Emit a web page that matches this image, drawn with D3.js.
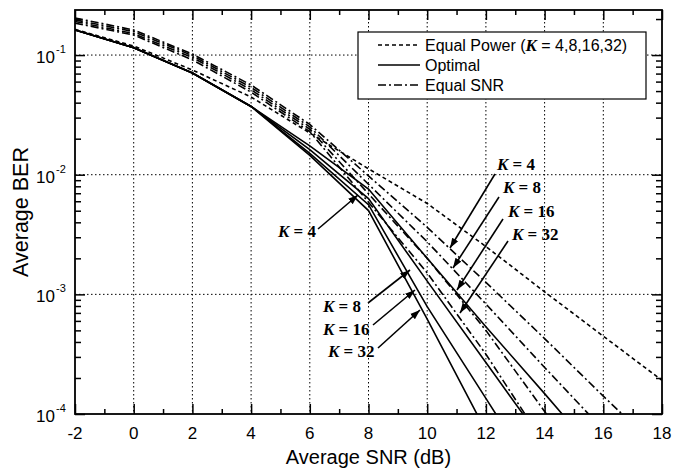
<html>
<head>
<meta charset="utf-8" />
<script src="https://d3js.org/d3.v7.min.js"></script>
<style>
  body { margin: 0; background: #fff; }
  text { font-family: "Liberation Sans", Arial, sans-serif; fill: #000; }
  .kl { font-family: "Liberation Serif", "Times New Roman", serif; font-weight: bold; font-size: 17px; }
</style>
</head>
<body>
<svg id="chart" width="673" height="469"></svg>
<script>
// SNR points (dB)
const snr = [-2, 0, 2, 4, 6, 8, 10, 12, 14, 16, 18];
const xTicks = [-2, 0, 2, 4, 6, 8, 10, 12, 14, 16, 18];
const yDecades = [1e-4, 1e-3, 1e-2, 1e-1];
const yExp = ["-4", "-3", "-2", "-1"];

// Equal power, same for all K
const berEqualPower = [0.164, 0.119, 0.075, 0.0446, 0.0223, 0.0112, 0.00575, 0.00251, 0.00105, 4.47e-4, 1.91e-4];

// Optimal
const berOptK4  = [0.162, 0.115, 0.0708, 0.0372, 0.0174, 0.00759, 0.0020, 5.37e-4, 1.48e-4, 3.98e-5];
const berOptK8  = [0.162, 0.115, 0.0708, 0.0372, 0.0162, 0.00631, 0.00129, 2.69e-4, 5.6e-5];
const berOptK16 = [0.162, 0.115, 0.0708, 0.0372, 0.0151, 0.00562, 7.9e-4, 1.35e-4, 2.3e-5];
const berOptK32 = [0.162, 0.115, 0.0708, 0.0372, 0.0145, 0.00501, 6.2e-4, 7.2e-5];

// Equal SNR
const berEsK4  = [0.204, 0.162, 0.102, 0.0562, 0.0263, 0.00977, 0.00363, 0.00126, 4.27e-4, 1.41e-4, 4.8e-5];
const berEsK8  = [0.197, 0.157, 0.0989, 0.0537, 0.0251, 0.00832, 0.00275, 8.3e-4, 2.45e-4, 7.4e-5];
const berEsK16 = [0.191, 0.151, 0.0955, 0.0513, 0.0240, 0.00692, 0.0020, 5.0e-4, 1.05e-4, 2.2e-5];
const berEsK32 = [0.185, 0.147, 0.0912, 0.049, 0.0229, 0.00589, 0.00151, 3.16e-4, 5.6e-5];

const series = [
  { name: "Equal Power", ber: berEqualPower, dash: "4,3" },
  { name: "Optimal K=4", ber: berOptK4, dash: null },
  { name: "Optimal K=8", ber: berOptK8, dash: null },
  { name: "Optimal K=16", ber: berOptK16, dash: null },
  { name: "Optimal K=32", ber: berOptK32, dash: null },
  { name: "Equal SNR K=4", ber: berEsK4, dash: "8,3,2,3" },
  { name: "Equal SNR K=8", ber: berEsK8, dash: "8,3,2,3" },
  { name: "Equal SNR K=16", ber: berEsK16, dash: "8,3,2,3" },
  { name: "Equal SNR K=32", ber: berEsK32, dash: "8,3,2,3" }
];

// annotation labels: [K, label x, label baseline, arrow from, arrow tip]
const leftLabels = [
  ["4", 278, 237, [318, 229], [358, 195]],
  ["8", 323, 312, [368, 303], [410, 270]],
  ["16", 323, 335, [373, 325], [415, 290]],
  ["32", 328, 357, [378, 348], [420, 310]]
];
const rightLabels = [
  ["4", 497, 170, [495, 174], [450, 248]],
  ["8", 503, 193, [499, 197], [453, 268]],
  ["16", 508, 217, [503, 219], [457, 290]],
  ["32", 512, 240, [508, 241], [460, 313]]
];

const svg = d3.select("#chart");
const margin = { left: 75, right: 11, top: 10, bottom: 55 };
const W = 673 - margin.left - margin.right;
const H = 469 - margin.top - margin.bottom;

const x = d3.scaleLinear().domain([-2, 18]).range([0, W]);
const y = d3.scaleLog().domain([1e-4, 0.238]).range([H, 0]);

const g = svg.append("g").attr("transform", `translate(${margin.left},${margin.top})`);

g.append("clipPath").attr("id", "clip")
  .append("rect").attr("width", W).attr("height", H);

// grid
g.selectAll("line.vgrid").data(xTicks.slice(1, -1)).join("line")
  .attr("x1", d => x(d)).attr("x2", d => x(d)).attr("y1", 0).attr("y2", H)
  .attr("stroke", "#000").attr("stroke-width", 1).attr("stroke-dasharray", "1.5,2.5");
g.selectAll("line.hgrid").data(yDecades.slice(1)).join("line")
  .attr("x1", 0).attr("x2", W).attr("y1", d => y(d)).attr("y2", d => y(d))
  .attr("stroke", "#000").attr("stroke-width", 1).attr("stroke-dasharray", "1.5,2.5");

// curves
const line = d3.line().x((d, i) => x(snr[i])).y(d => y(d));
g.append("g").attr("clip-path", "url(#clip)")
  .selectAll("path").data(series).join("path")
  .attr("d", d => line(d.ber))
  .attr("fill", "none").attr("stroke", "#000").attr("stroke-width", 1.6)
  .attr("stroke-dasharray", d => d.dash);

// ticks inside frame
const minorX = d3.range(-1, 18, 2);
const axB = d3.axisBottom(x).tickValues(xTicks).tickSize(-10).tickFormat("");
const axBm = d3.axisBottom(x).tickValues(minorX).tickSize(-5).tickFormat("");
const axT = d3.axisTop(x).tickValues(xTicks).tickSize(-10).tickFormat("");
const axTm = d3.axisTop(x).tickValues(minorX).tickSize(-5).tickFormat("");
const minorY = [];
[1e-4, 1e-3, 1e-2, 1e-1].forEach(dec => d3.range(2, 10).forEach(k => {
  if (dec * k <= 0.238) minorY.push(dec * k);
}));
const axL = d3.axisLeft(y).tickValues(yDecades).tickSize(-10).tickFormat("");
const axLm = d3.axisLeft(y).tickValues(minorY).tickSize(-6).tickFormat("");
const axR = d3.axisRight(y).tickValues(yDecades).tickSize(-10).tickFormat("");
const axRm = d3.axisRight(y).tickValues(minorY).tickSize(-6).tickFormat("");

[[axB, `0,${H}`], [axBm, `0,${H}`], [axT, "0,0"], [axTm, "0,0"],
 [axL, "0,0"], [axLm, "0,0"], [axR, `${W},0`], [axRm, `${W},0`]].forEach(([a, t]) => {
  const s = g.append("g").attr("transform", `translate(${t})`).call(a);
  s.select(".domain").remove();
  s.selectAll(".tick line").attr("stroke", "#000").attr("stroke-width", 1.5);
});

g.append("rect").attr("width", W).attr("height", H)
  .attr("fill", "none").attr("stroke", "#000").attr("stroke-width", 1.8);

// tick labels
g.selectAll("text.xl").data(xTicks).join("text")
  .attr("x", d => x(d)).attr("y", H + 25)
  .attr("text-anchor", "middle").attr("font-size", 17)
  .text(d => d);

const yl = g.selectAll("g.yl").data(yDecades).join("g")
  .attr("transform", d => `translate(-20,${y(d)})`);
yl.append("text").attr("x", 0).attr("y", 8).attr("text-anchor", "end")
  .attr("font-size", 17).text("10");
yl.append("text").attr("x", 1).attr("y", -2).attr("font-size", 11)
  .text((d, i) => yExp[i]);

// axis titles
svg.append("text").attr("x", margin.left + W / 2).attr("y", 464)
  .attr("text-anchor", "middle").attr("font-size", 20).text("Average SNR (dB)");
svg.append("text").attr("transform", `translate(28,${margin.top + H / 2}) rotate(-90)`)
  .attr("text-anchor", "middle").attr("font-size", 21.5).text("Average BER");

// legend
const lg = svg.append("g");
lg.append("rect").attr("x", 358).attr("y", 32).attr("width", 288).attr("height", 67)
  .attr("fill", "#fff").attr("stroke", "#000").attr("stroke-width", 1.2);
const legendRows = [
  { dash: "4,3", y: 45 },
  { dash: null, y: 65 },
  { dash: "8,3,2,3", y: 85 }
];
lg.selectAll("line").data(legendRows).join("line")
  .attr("x1", 378).attr("x2", 420).attr("y1", d => d.y).attr("y2", d => d.y)
  .attr("stroke", "#000").attr("stroke-width", 1.6).attr("stroke-dasharray", d => d.dash);
const t0 = lg.append("text").attr("x", 425).attr("y", 51).attr("font-size", 16);
t0.append("tspan").text("Equal Power (");
t0.append("tspan").attr("class", "kl").attr("font-style", "italic").text("K");
t0.append("tspan").text(" = 4,8,16,32)");
lg.append("text").attr("x", 425).attr("y", 71).attr("font-size", 16).text("Optimal");
lg.append("text").attr("x", 425).attr("y", 91).attr("font-size", 16).text("Equal SNR");

// annotations
svg.append("defs").append("marker").attr("id", "arr")
  .attr("viewBox", "0 0 10 10").attr("refX", 10).attr("refY", 5)
  .attr("markerWidth", 10).attr("markerHeight", 10).attr("markerUnits", "userSpaceOnUse")
  .attr("orient", "auto")
  .append("path").attr("d", "M0,1.5 L10,5 L0,8.5 Z").attr("fill", "#000");

const ann = svg.append("g");
leftLabels.concat(rightLabels).forEach(([k, tx, ty, a, b]) => {
  const t = ann.append("text").attr("class", "kl").attr("x", tx).attr("y", ty);
  t.append("tspan").attr("font-style", "italic").text("K");
  t.append("tspan").text(" = " + k);
  ann.append("line").attr("x1", a[0]).attr("y1", a[1]).attr("x2", b[0]).attr("y2", b[1])
    .attr("stroke", "#000").attr("stroke-width", 1.6).attr("marker-end", "url(#arr)");
});
</script>
</body>
</html>
